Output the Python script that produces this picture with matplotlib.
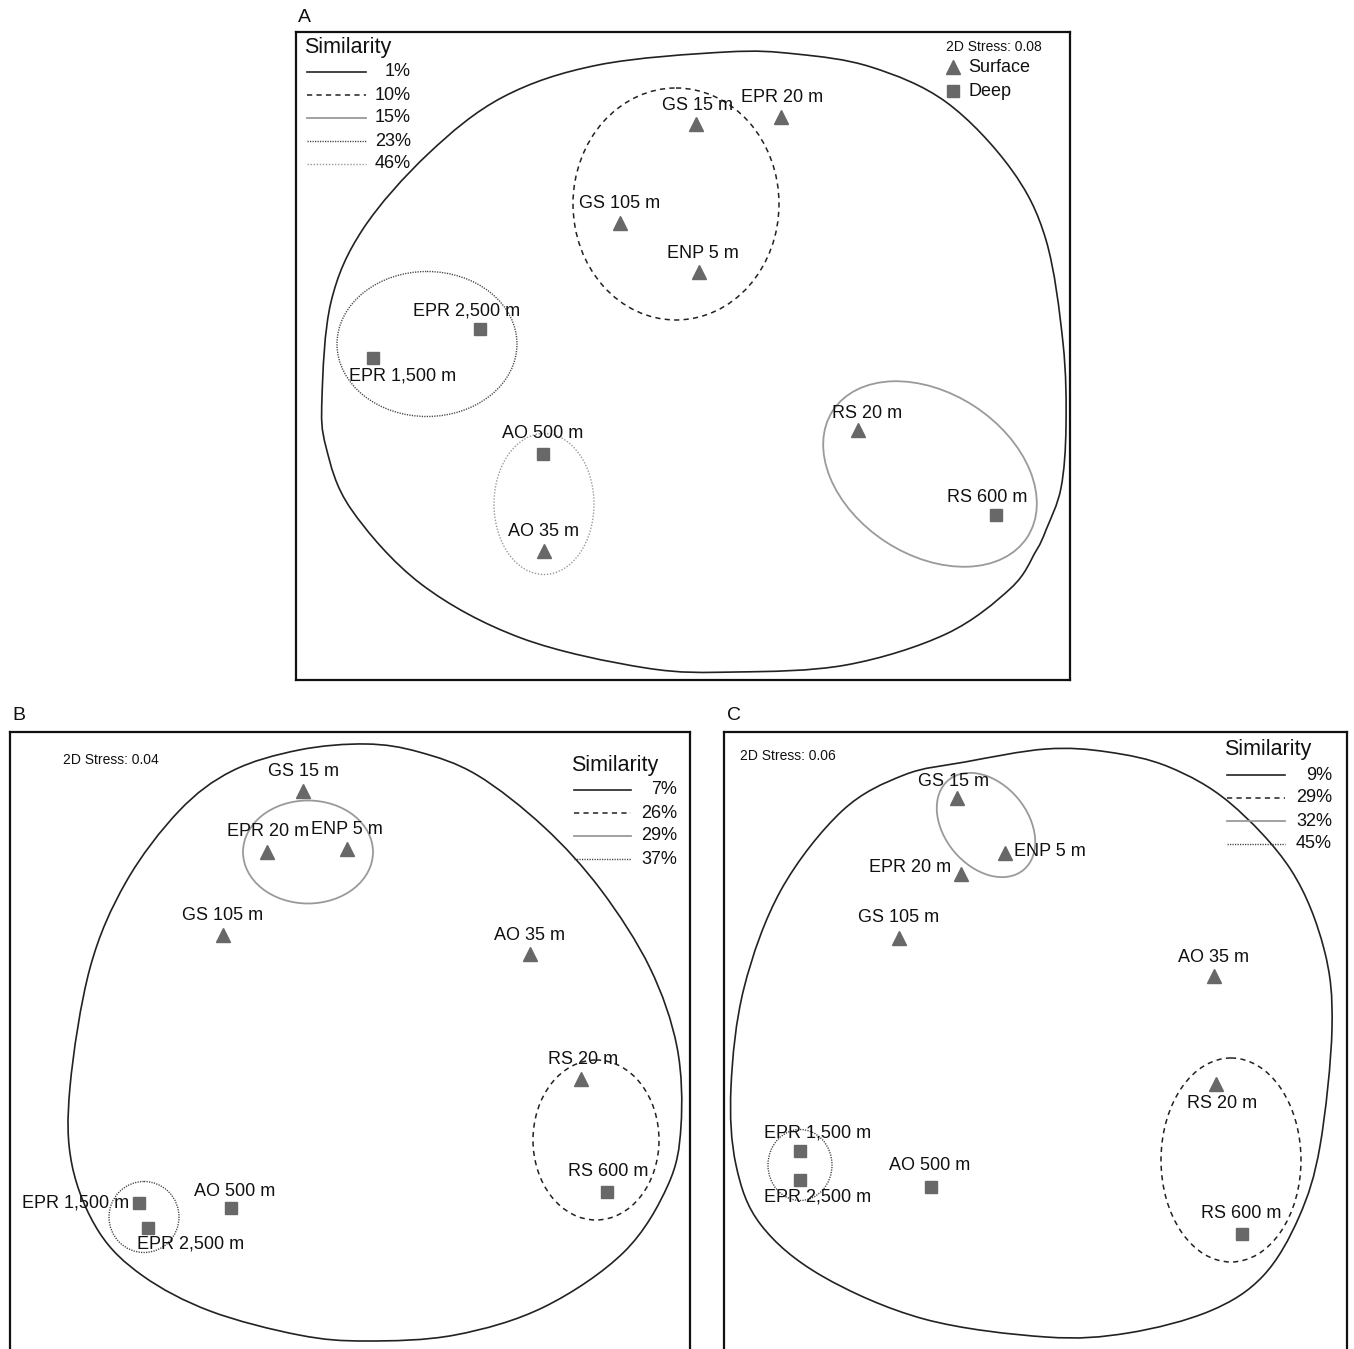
import numpy as np
import matplotlib.pyplot as plt
from matplotlib.patches import Ellipse, PathPatch
from matplotlib.path import Path

plt.rcParams['font.family'] = ['Liberation Sans', 'DejaVu Sans']

# ---- data: nMDS ordination coordinates (plot units, y grows downwards) ----
sites_a = ['GS 15 m', 'EPR 20 m', 'GS 105 m', 'ENP 5 m', 'EPR 2,500 m',
           'EPR 1,500 m', 'AO 500 m', 'AO 35 m', 'RS 20 m', 'RS 600 m']
kind_a = ['s', 's', 's', 's', 'd', 'd', 'd', 's', 's', 'd']
x_a = [400, 485, 324, 403, 184, 77, 247, 248, 562, 700]
y_a = [92, 85, 191, 240, 297, 326, 422, 519, 398, 483]

sites_b = ['GS 15 m', 'EPR 20 m', 'ENP 5 m', 'GS 105 m', 'AO 35 m', 'RS 20 m',
           'RS 600 m', 'EPR 1,500 m', 'EPR 2,500 m', 'AO 500 m']
kind_b = ['s', 's', 's', 's', 's', 's', 'd', 'd', 'd', 'd']
x_b = [293, 257, 337, 213, 520, 571, 597, 129, 138, 221]
y_b = [59, 120, 117, 203, 222, 347, 460, 471, 496, 476]

sites_c = ['GS 15 m', 'ENP 5 m', 'EPR 20 m', 'GS 105 m', 'AO 35 m', 'RS 20 m',
           'RS 600 m', 'EPR 1,500 m', 'EPR 2,500 m', 'AO 500 m']
kind_c = ['s', 's', 's', 's', 's', 's', 'd', 'd', 'd', 'd']
x_c = [233, 281, 237, 175, 490, 492, 518, 76, 76, 207]
y_c = [66, 121, 142, 206, 244, 352, 502, 419, 448, 455]

# similarity levels of the cluster contours
sim_a = ['1%', '10%', '15%', '23%', '46%']
sim_b = ['7%', '26%', '29%', '37%']
sim_c = ['9%', '29%', '32%', '45%']
stress = {'A': 0.08, 'B': 0.04, 'C': 0.06}

# outer (lowest similarity) hull outlines
hull_a_x = [430, 500, 575, 650, 715, 750, 767, 770, 765, 750, 740, 715, 650,
            550, 440, 350, 225, 125, 55, 30, 26, 35, 67, 132, 207, 302]
hull_a_y = [20, 22, 35, 70, 137, 208, 311, 394, 456, 498, 519, 556, 602,
            633, 640, 636, 606, 552, 477, 415, 365, 270, 197, 122, 65, 33]
hull_b_x = [356, 289, 222, 169, 116, 80, 60, 62, 89, 133, 200, 289, 356,
            445, 534, 614, 658, 671, 667, 640, 591, 534, 467, 409]
hull_b_y = [12, 18, 39, 79, 150, 236, 355, 433, 500, 544, 579, 603, 609,
            603, 575, 520, 453, 394, 315, 236, 158, 95, 43, 20]
hull_c_x = [322, 241, 180, 118, 57, 20, 7, 12, 37, 98, 200, 322, 404,
            486, 539, 575, 596, 608, 600, 567, 506, 445, 384]
hull_c_y = [17, 30, 43, 79, 158, 256, 355, 433, 493, 544, 587, 605, 601,
            579, 544, 485, 414, 296, 217, 138, 71, 35, 20]

# inner clusters: (cx, cy, width, height, angle)
ell_a = [(380, 172, 206, 232, 0), (634, 442, 232, 162, 33),
         (131, 312, 180, 145, 0), (248, 472, 100, 141, 0)]
ell_b = [(586, 408, 126, 160, 0), (298, 120, 130, 103, 0),
         (134, 485, 70, 71, 0)]
ell_c = [(507, 428, 140, 204, 0), (262, 93, 117, 83, 50),
         (76, 433, 64, 71, 0)]

# styles per similarity rank
STY = {
    'solid': dict(color='#222222', lw=1.2, ls='-'),
    'dash': dict(color='#222222', lw=1.1, ls=(0, (3.4, 2.8))),
    'gray': dict(color='#9a9a9a', lw=1.3, ls='-'),
    'dot': dict(color='#444444', lw=1.0, ls=(0, (0.9, 0.9))),
    'ldot': dict(color='#9a9a9a', lw=1.0, ls=(0, (1.0, 1.2))),
}
MK = '#686868'

W, H = 1354, 1349
fig = plt.figure(figsize=(W / 100, H / 100), dpi=100)


def panel(left, top, right, bottom):
    ax = fig.add_axes([left / W, 1 - bottom / H, (right - left) / W, (bottom - top) / H])
    ax.set_xlim(0, right - left)
    ax.set_ylim(bottom - top, 0)
    ax.set_xticks([])
    ax.set_yticks([])
    for s in ax.spines.values():
        s.set_linewidth(1.6)
        s.set_color('#111111')
    return ax


def hull(ax, xs, ys, style):
    p = np.column_stack([xs, ys]).astype(float)
    n = len(p)
    verts = [p[0]]
    codes = [Path.MOVETO]
    for i in range(n):
        p0, p1, p2, p3 = p[i - 1], p[i], p[(i + 1) % n], p[(i + 2) % n]
        verts += [p1 + (p2 - p0) / 6, p2 - (p3 - p1) / 6, p2]
        codes += [Path.CURVE4] * 3
    ax.add_patch(PathPatch(Path(verts, codes), fill=False, color=style['color'],
                           lw=style['lw'], ls=style['ls']))


def ellipses(ax, ells, styles):
    for (cx, cy, w, h, ang), st in zip(ells, styles):
        ax.add_patch(Ellipse((cx, cy), w, h, angle=ang, fill=False,
                             color=st['color'], lw=st['lw'], ls=st['ls']))


def points(ax, xs, ys, kinds, names, offs):
    for x, y, k, nm in zip(xs, ys, kinds, names):
        ax.plot(x, y, marker='^' if k == 's' else 's', ms=10.5 if k == 's' else 8.5,
                color=MK, mec=MK, ls='none', zorder=5)
        dx, dy, ha = offs.get(nm, (0, -19, 'center'))
        ax.text(x + dx, y + dy, nm, ha=ha, va='center', fontsize=13, color='#111111', zorder=6)


def sim_legend(ax, x0, x1, xr, y0, levels, styles):
    ax.text(x0 - 3, y0 - 25, 'Similarity', fontsize=15.5, va='center', ha='left', color='#111111')
    for i, (lab, st) in enumerate(zip(levels, styles)):
        yy = y0 + 23 * i
        ax.plot([x0, x1], [yy, yy], color=st['color'], lw=st['lw'], ls=st['ls'])
        ax.text(xr, yy, lab, fontsize=13, ha='right', va='center', color='#111111')


# ---------------- panel A ----------------
axa = panel(296, 32, 1070, 680)
hull(axa, hull_a_x, hull_a_y, STY['solid'])
ellipses(axa, ell_a, [STY['dash'], STY['gray'], STY['dot'], STY['ldot']])
offs_a = {'GS 15 m': (2, -18, 'center'), 'EPR 20 m': (1, -20, 'center'),
          'ENP 5 m': (4, -19, 'center'), 'EPR 2,500 m': (-13, -18, 'center'),
          'EPR 1,500 m': (30, 18, 'center'), 'AO 500 m': (0, -21, 'center'),
          'RS 20 m': (9, -16, 'center'), 'RS 600 m': (-9, -18, 'center')}
points(axa, x_a, y_a, kind_a, sites_a, offs_a)
sim_legend(axa, 11, 70, 115, 40, sim_a,
           [STY['solid'], STY['dash'], STY['gray'], STY['dot'], STY['ldot']])
axa.text(650, 15, '2D Stress: %.2f' % stress['A'], fontsize=10, va='center', color='#111111')
axa.plot(657, 35, marker='^', ms=10.5, color=MK, ls='none')
axa.text(672, 35, 'Surface', fontsize=13, va='center', color='#111111')
axa.plot(657, 59, marker='s', ms=8.5, color=MK, ls='none')
axa.text(672, 59, 'Deep', fontsize=13, va='center', color='#111111')

# ---------------- panel B ----------------
axb = panel(10, 732, 690, 1353)
hull(axb, hull_b_x, hull_b_y, STY['solid'])
ellipses(axb, ell_b, [STY['dash'], STY['gray'], STY['dot']])
offs_b = {'EPR 20 m': (1, -20, 'center'), 'GS 105 m': (0, -20, 'center'),
          'RS 20 m': (2, -20, 'center'), 'RS 600 m': (1, -21, 'center'),
          'EPR 1,500 m': (-10, 0, 'right'), 'EPR 2,500 m': (43, 16, 'center'),
          'AO 500 m': (4, -17, 'center')}
points(axb, x_b, y_b, kind_b, sites_b, offs_b)
sim_legend(axb, 564, 621, 667, 58, sim_b,
           [STY['solid'], STY['dash'], STY['gray'], STY['dot']])
axb.text(53, 28, '2D Stress: %.2f' % stress['B'], fontsize=10, va='center', color='#111111')

# ---------------- panel C ----------------
axc = panel(724, 732, 1347, 1353)
hull(axc, hull_c_x, hull_c_y, STY['solid'])
ellipses(axc, ell_c, [STY['dash'], STY['gray'], STY['dot']])
offs_c = {'GS 15 m': (-4, -17, 'center'), 'ENP 5 m': (9, -1, 'left'),
          'EPR 20 m': (-10, -7, 'right'), 'GS 105 m': (0, -20, 'center'),
          'RS 20 m': (6, 20, 'center'), 'RS 600 m': (-1, -21, 'center'),
          'EPR 1,500 m': (18, -18, 'center'), 'EPR 2,500 m': (18, 17, 'center'),
          'AO 500 m': (-1, -22, 'center')}
points(axc, x_c, y_c, kind_c, sites_c, offs_c)
sim_legend(axc, 503, 561, 608, 43, sim_c,
           [STY['solid'], STY['dash'], STY['gray'], STY['dot']])
axc.text(16, 24, '2D Stress: %.2f' % stress['C'], fontsize=10, va='center', color='#111111')

# panel letters
for lab, px, py in [('A', 298, 18), ('B', 12, 716), ('C', 727, 716)]:
    fig.text(px / W, 1 - py / H, lab, fontsize=14, ha='left', va='center', color='#111111')

fig.savefig('out.png', dpi=100, facecolor='white')
